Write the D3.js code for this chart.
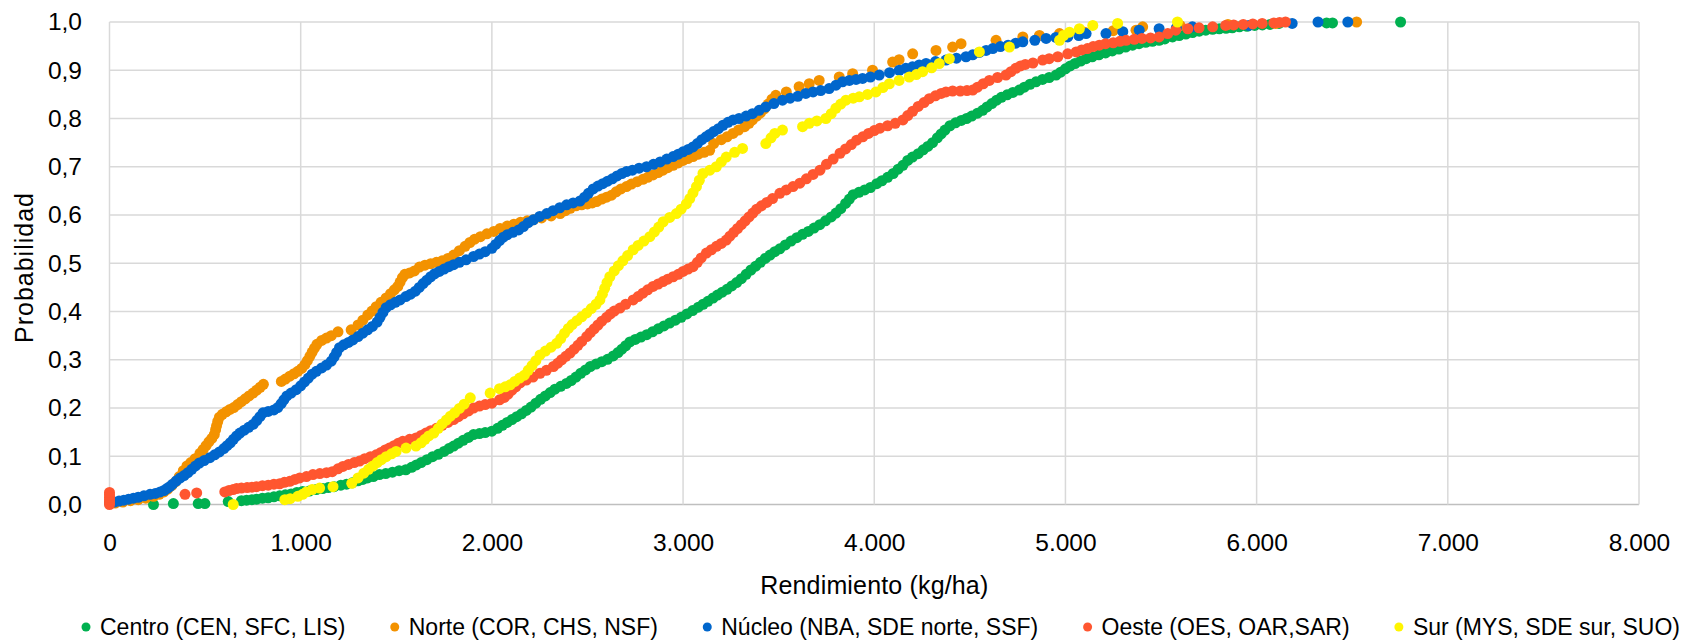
<!DOCTYPE html>
<html><head><meta charset="utf-8">
<script src="https://cdn.jsdelivr.net/npm/d3@7"></script>
<style>
body{margin:0;background:#fff}
svg{display:block}
text{font-family:"Liberation Sans",Arial,sans-serif;fill:#000}
</style>
</head><body><svg id="c" width="1686" height="642"></svg>
<script>
// ---- data (yield kg/ha, cumulative probability) ----
const seriesNames = ["Centro (CEN, SFC, LIS)","Norte (COR, CHS, NSF)","Núcleo (NBA, SDE norte, SSF)","Oeste (OES, OAR,SAR)","Sur (MYS, SDE sur, SUO)"];
const seriesColors = ["#00B050","#F39200","#0066CC","#FF5630","#FFF500"];

const centro = [[230,0.0],[334,0.002],[464,0.002],[499,0.002],[621,0.006],[690,0.008],[717,0.009],[745,0.01],[770,0.011],[800,0.013],[830,0.014],[860,0.016],[890,0.018],[920,0.02],[950,0.022],[980,0.025],[1010,0.027],[1045,0.028],[1082,0.031],[1115,0.033],[1145,0.035],[1175,0.037],[1210,0.04],[1240,0.042],[1270,0.045],[1300,0.049],[1325,0.052],[1350,0.055],[1380,0.058],[1412,0.062],[1445,0.064],[1480,0.067],[1515,0.07],[1550,0.072],[1580,0.077],[1605,0.082],[1630,0.087],[1660,0.093],[1690,0.099],[1720,0.104],[1750,0.11],[1775,0.116],[1800,0.121],[1825,0.127],[1850,0.133],[1878,0.139],[1904,0.145],[1935,0.147],[1965,0.149],[2000,0.152],[2030,0.158],[2055,0.164],[2080,0.17],[2105,0.176],[2130,0.182],[2155,0.188],[2180,0.195],[2205,0.202],[2230,0.21],[2255,0.218],[2280,0.225],[2305,0.232],[2330,0.239],[2360,0.245],[2390,0.251],[2415,0.257],[2440,0.264],[2465,0.272],[2490,0.279],[2515,0.286],[2545,0.291],[2575,0.296],[2605,0.301],[2635,0.308],[2660,0.315],[2680,0.322],[2700,0.329],[2722,0.337],[2750,0.342],[2780,0.347],[2810,0.352],[2840,0.358],[2870,0.364],[2900,0.37],[2930,0.376],[2960,0.382],[2990,0.388],[3020,0.395],[3050,0.402],[3080,0.409],[3105,0.415],[3130,0.421],[3157,0.428],[3180,0.434],[3205,0.44],[3230,0.446],[3255,0.453],[3280,0.46],[3305,0.468],[3330,0.477],[3355,0.486],[3380,0.494],[3405,0.502],[3430,0.51],[3455,0.517],[3480,0.524],[3506,0.53],[3535,0.538],[3565,0.546],[3595,0.553],[3625,0.56],[3655,0.566],[3685,0.573],[3715,0.58],[3745,0.588],[3775,0.596],[3800,0.604],[3825,0.613],[3850,0.624],[3870,0.633],[3890,0.642],[3920,0.647],[3950,0.652],[3980,0.657],[4013,0.665],[4040,0.671],[4070,0.678],[4099,0.686],[4125,0.695],[4150,0.703],[4175,0.713],[4200,0.72],[4230,0.727],[4256,0.735],[4280,0.742],[4305,0.75],[4330,0.76],[4350,0.768],[4370,0.776],[4396,0.785],[4425,0.791],[4455,0.796],[4483,0.8],[4510,0.805],[4540,0.811],[4567,0.817],[4590,0.824],[4615,0.831],[4640,0.838],[4665,0.844],[4695,0.849],[4725,0.854],[4759,0.859],[4785,0.865],[4815,0.871],[4846,0.876],[4880,0.881],[4915,0.885],[4951,0.89],[4975,0.896],[5000,0.903],[5025,0.909],[5050,0.914],[5080,0.919],[5108,0.924],[5140,0.928],[5175,0.932],[5210,0.936],[5245,0.94],[5280,0.944],[5315,0.948],[5351,0.952],[5385,0.955],[5420,0.958],[5455,0.96],[5490,0.962],[5520,0.965],[5560,0.969],[5595,0.972],[5630,0.975],[5665,0.978],[5700,0.981],[5734,0.983],[5770,0.985],[5805,0.986],[5840,0.987],[5873,0.988],[5910,0.99],[5950,0.991],[5990,0.993],[6030,0.994],[6070,0.995],[6117,0.997],[6366,0.998],[6397,0.998],[6753,1.0]];

const norte = [[30,0.003],[70,0.005],[110,0.008],[150,0.01],[190,0.013],[230,0.017],[260,0.021],[285,0.026],[305,0.032],[325,0.039],[345,0.047],[365,0.058],[386,0.07],[405,0.08],[425,0.087],[448,0.095],[473,0.106],[490,0.114],[505,0.122],[520,0.13],[535,0.137],[548,0.145],[555,0.155],[560,0.163],[566,0.172],[575,0.181],[590,0.187],[610,0.192],[630,0.197],[650,0.201],[670,0.207],[690,0.213],[710,0.219],[730,0.225],[751,0.231],[770,0.237],[788,0.243],[805,0.249],[899,0.255],[920,0.26],[943,0.266],[965,0.271],[985,0.276],[1005,0.282],[1022,0.29],[1035,0.298],[1048,0.307],[1060,0.316],[1072,0.324],[1085,0.332],[1110,0.34],[1135,0.345],[1160,0.35],[1195,0.358],[1264,0.362],[1300,0.372],[1325,0.382],[1351,0.393],[1373,0.401],[1395,0.41],[1420,0.419],[1447,0.428],[1470,0.437],[1490,0.445],[1508,0.452],[1520,0.461],[1532,0.47],[1545,0.477],[1570,0.48],[1595,0.484],[1621,0.492],[1650,0.496],[1680,0.499],[1710,0.502],[1740,0.505],[1770,0.51],[1800,0.517],[1830,0.526],[1860,0.535],[1885,0.543],[1910,0.55],[1940,0.555],[1974,0.561],[2010,0.566],[2043,0.572],[2080,0.577],[2115,0.581],[2150,0.585],[2185,0.588],[2217,0.59],[2260,0.594],[2310,0.598],[2357,0.603],[2385,0.609],[2410,0.614],[2440,0.619],[2470,0.621],[2500,0.623],[2525,0.625],[2548,0.628],[2575,0.633],[2600,0.637],[2626,0.641],[2650,0.648],[2675,0.654],[2704,0.659],[2730,0.664],[2760,0.669],[2790,0.674],[2815,0.678],[2843,0.683],[2870,0.688],[2895,0.693],[2920,0.698],[2948,0.703],[2975,0.708],[3000,0.713],[3025,0.717],[3052,0.721],[3080,0.726],[3110,0.73],[3139,0.734],[3160,0.748],[3200,0.756],[3230,0.762],[3261,0.769],[3290,0.776],[3322,0.783],[3345,0.79],[3363,0.797],[3385,0.805],[3405,0.812],[3425,0.82],[3445,0.83],[3465,0.84],[3485,0.848],[3540,0.855],[3607,0.866],[3660,0.872],[3712,0.879],[3817,0.886],[3887,0.893],[3991,0.9],[4096,0.917],[4130,0.922],[4201,0.934],[4323,0.941],[4410,0.948],[4454,0.955],[4637,0.962],[4777,0.969],[4864,0.972],[4969,0.976],[5100,0.979],[5250,0.982],[5369,0.983],[5404,0.99],[5600,0.993],[5850,0.995],[6100,0.997],[6523,1.0]];

const nucleo = [[0,0.003],[25,0.005],[50,0.007],[75,0.009],[100,0.011],[125,0.013],[150,0.015],[180,0.018],[212,0.021],[240,0.023],[265,0.026],[285,0.029],[300,0.033],[315,0.037],[330,0.042],[350,0.049],[370,0.055],[390,0.06],[410,0.066],[430,0.073],[450,0.08],[470,0.086],[495,0.091],[525,0.097],[550,0.103],[575,0.109],[598,0.116],[615,0.122],[632,0.128],[648,0.135],[665,0.142],[682,0.148],[705,0.154],[728,0.16],[751,0.166],[770,0.174],[787,0.182],[803,0.19],[830,0.193],[860,0.196],[880,0.201],[898,0.209],[912,0.217],[928,0.225],[950,0.231],[977,0.238],[1000,0.246],[1020,0.254],[1040,0.262],[1060,0.27],[1082,0.276],[1110,0.283],[1135,0.289],[1160,0.297],[1175,0.306],[1188,0.315],[1203,0.325],[1225,0.331],[1250,0.336],[1273,0.341],[1300,0.348],[1325,0.355],[1350,0.362],[1375,0.369],[1400,0.378],[1415,0.388],[1430,0.398],[1447,0.408],[1470,0.414],[1495,0.419],[1520,0.424],[1550,0.431],[1575,0.436],[1600,0.442],[1620,0.45],[1640,0.458],[1660,0.465],[1680,0.472],[1700,0.478],[1725,0.483],[1750,0.488],[1775,0.493],[1800,0.497],[1830,0.502],[1865,0.507],[1904,0.514],[1935,0.519],[1965,0.524],[2000,0.531],[2020,0.539],[2040,0.547],[2060,0.554],[2080,0.559],[2110,0.564],[2140,0.569],[2165,0.576],[2190,0.584],[2217,0.59],[2250,0.597],[2287,0.603],[2320,0.609],[2355,0.615],[2391,0.621],[2425,0.625],[2461,0.629],[2485,0.637],[2505,0.645],[2530,0.654],[2555,0.66],[2580,0.665],[2605,0.67],[2630,0.675],[2655,0.681],[2680,0.686],[2704,0.69],[2735,0.693],[2770,0.697],[2809,0.7],[2845,0.705],[2880,0.71],[2915,0.716],[2948,0.721],[2975,0.726],[3000,0.731],[3027,0.736],[3052,0.741],[3075,0.748],[3098,0.756],[3120,0.762],[3139,0.767],[3160,0.773],[3185,0.779],[3209,0.786],[3235,0.792],[3262,0.797],[3293,0.8],[3330,0.805],[3363,0.81],[3398,0.817],[3433,0.824],[3475,0.831],[3520,0.838],[3560,0.842],[3600,0.846],[3642,0.852],[3680,0.855],[3720,0.858],[3764,0.862],[3800,0.869],[3834,0.876],[3870,0.879],[3905,0.881],[3939,0.883],[3980,0.886],[4026,0.89],[4080,0.895],[4131,0.9],[4165,0.904],[4200,0.907],[4235,0.911],[4271,0.914],[4320,0.918],[4375,0.921],[4430,0.925],[4480,0.928],[4515,0.932],[4550,0.937],[4585,0.941],[4620,0.945],[4660,0.949],[4700,0.952],[4740,0.956],[4777,0.959],[4840,0.962],[4899,0.966],[4950,0.968],[5012,0.969],[5070,0.972],[5108,0.976],[5212,0.976],[5300,0.98],[5386,0.983],[5490,0.986],[5580,0.988],[5664,0.99],[5960,0.993],[6186,0.997],[6321,1.0],[6477,1.0]];

const oeste = [[0,0.0],[0,0.005],[0,0.01],[0,0.015],[0,0.02],[0,0.025],[395,0.021],[456,0.024],[603,0.026],[625,0.029],[647,0.031],[665,0.033],[690,0.034],[720,0.035],[745,0.036],[769,0.037],[800,0.039],[830,0.04],[860,0.042],[890,0.043],[915,0.046],[943,0.048],[970,0.052],[995,0.055],[1030,0.058],[1064,0.062],[1100,0.064],[1135,0.066],[1165,0.068],[1195,0.074],[1221,0.079],[1250,0.083],[1280,0.087],[1308,0.09],[1335,0.095],[1365,0.099],[1395,0.103],[1420,0.108],[1442,0.113],[1464,0.117],[1488,0.122],[1511,0.127],[1534,0.131],[1570,0.135],[1603,0.138],[1630,0.143],[1655,0.148],[1680,0.153],[1710,0.158],[1740,0.164],[1770,0.17],[1800,0.176],[1825,0.182],[1850,0.188],[1878,0.194],[1904,0.2],[1935,0.204],[1965,0.207],[2000,0.21],[2040,0.217],[2065,0.222],[2085,0.229],[2105,0.237],[2125,0.244],[2148,0.252],[2180,0.258],[2215,0.264],[2252,0.272],[2285,0.278],[2322,0.286],[2345,0.293],[2365,0.3],[2387,0.307],[2409,0.314],[2430,0.322],[2450,0.33],[2470,0.338],[2496,0.348],[2515,0.356],[2535,0.364],[2555,0.372],[2575,0.38],[2600,0.388],[2620,0.395],[2640,0.401],[2670,0.407],[2700,0.415],[2739,0.424],[2765,0.431],[2790,0.438],[2815,0.445],[2843,0.452],[2870,0.457],[2895,0.462],[2920,0.467],[2948,0.472],[2975,0.477],[3000,0.483],[3026,0.488],[3052,0.493],[3075,0.502],[3095,0.511],[3122,0.521],[3148,0.528],[3175,0.535],[3200,0.541],[3226,0.548],[3245,0.556],[3265,0.564],[3285,0.572],[3305,0.58],[3325,0.588],[3345,0.596],[3365,0.604],[3385,0.612],[3410,0.619],[3438,0.626],[3468,0.634],[3506,0.645],[3540,0.652],[3575,0.659],[3611,0.666],[3645,0.675],[3680,0.684],[3716,0.693],[3750,0.705],[3785,0.716],[3821,0.728],[3850,0.737],[3880,0.746],[3908,0.755],[3940,0.762],[3970,0.769],[4000,0.775],[4030,0.78],[4070,0.785],[4110,0.79],[4150,0.797],[4175,0.806],[4201,0.815],[4230,0.825],[4260,0.833],[4288,0.841],[4320,0.847],[4350,0.852],[4375,0.855],[4410,0.857],[4450,0.857],[4485,0.858],[4515,0.859],[4540,0.865],[4570,0.872],[4602,0.879],[4645,0.885],[4689,0.89],[4715,0.897],[4740,0.904],[4765,0.909],[4790,0.912],[4830,0.915],[4881,0.921],[4915,0.924],[4960,0.928],[5012,0.934],[5056,0.938],[5085,0.942],[5115,0.945],[5145,0.949],[5177,0.952],[5210,0.955],[5250,0.957],[5285,0.96],[5317,0.962],[5360,0.964],[5400,0.966],[5445,0.967],[5490,0.969],[5535,0.976],[5577,0.983],[5640,0.986],[5699,0.988],[5770,0.99],[5838,0.993],[5880,0.994],[5930,0.995],[5980,0.996],[6029,0.997],[6090,0.998],[6120,0.999],[6151,1.0]];

const sur = [[647,0.0],[917,0.01],[945,0.012],[985,0.017],[1010,0.021],[1030,0.026],[1060,0.031],[1099,0.034],[1169,0.037],[1267,0.044],[1300,0.055],[1330,0.065],[1355,0.073],[1378,0.08],[1400,0.087],[1422,0.093],[1447,0.099],[1475,0.105],[1499,0.11],[1551,0.117],[1603,0.121],[1630,0.128],[1650,0.135],[1670,0.142],[1696,0.148],[1720,0.158],[1740,0.167],[1762,0.175],[1783,0.183],[1805,0.19],[1830,0.199],[1855,0.208],[1887,0.221],[1991,0.231],[2040,0.24],[2070,0.244],[2096,0.248],[2120,0.255],[2145,0.262],[2170,0.268],[2190,0.278],[2210,0.288],[2230,0.298],[2252,0.31],[2280,0.318],[2310,0.326],[2339,0.334],[2360,0.344],[2380,0.355],[2400,0.365],[2420,0.373],[2445,0.381],[2470,0.389],[2496,0.397],[2520,0.406],[2545,0.415],[2565,0.424],[2578,0.436],[2590,0.448],[2602,0.46],[2617,0.472],[2640,0.484],[2662,0.495],[2685,0.505],[2710,0.516],[2739,0.528],[2765,0.537],[2795,0.546],[2826,0.555],[2850,0.565],[2873,0.575],[2896,0.586],[2930,0.595],[2965,0.603],[2990,0.612],[3017,0.623],[3035,0.634],[3052,0.646],[3070,0.659],[3085,0.672],[3104,0.686],[3140,0.693],[3174,0.7],[3200,0.71],[3226,0.72],[3270,0.73],[3311,0.738],[3433,0.748],[3460,0.76],[3480,0.769],[3520,0.776],[3625,0.783],[3660,0.79],[3700,0.795],[3747,0.8],[3775,0.81],[3799,0.821],[3825,0.83],[3852,0.838],[3890,0.842],[3922,0.845],[3965,0.85],[4009,0.855],[4045,0.864],[4079,0.872],[4130,0.879],[4183,0.886],[4220,0.891],[4253,0.897],[4300,0.905],[4340,0.914],[4393,0.924],[4550,0.938],[4707,0.948],[4969,0.962],[4990,0.972],[5021,0.979],[5073,0.986],[5143,0.993],[5273,0.997],[5586,1.0]];

const xTicks = [0,1000,2000,3000,4000,5000,6000,7000,8000];
const xTickLabels = ["0","1.000","2.000","3.000","4.000","5.000","6.000","7.000","8.000"];
const yTicks = [0,0.1,0.2,0.3,0.4,0.5,0.6,0.7,0.8,0.9,1.0];
const yTickLabels = ["0,0","0,1","0,2","0,3","0,4","0,5","0,6","0,7","0,8","0,9","1,0"];
const xTitle = "Rendimiento (kg/ha)";
const yTitle = "Probabilidad";

// ---- drawing ----
const allSeries = [centro, norte, nucleo, oeste, sur];
const svg = d3.select("#c");
const L = 109.5, R = 1639, T = 22, B = 504.5;
const x = d3.scaleLinear().domain([0,8000]).range([L,R]);
const y = d3.scaleLinear().domain([0,1]).range([B,T]);

const grid = svg.append("g");
grid.selectAll("line.h").data(yTicks).join("line")
  .attr("x1",L).attr("x2",R).attr("y1",d=>y(d)).attr("y2",d=>y(d))
  .attr("stroke",(d,i)=>i===0?"#BFBFBF":"#D9D9D9").attr("stroke-width",1.5);
grid.selectAll("line.v").data(xTicks).join("line")
  .attr("x1",d=>x(d)).attr("x2",d=>x(d)).attr("y1",T).attr("y2",B)
  .attr("stroke","#D9D9D9").attr("stroke-width",1.5);

const xAxis = svg.append("g").attr("transform",`translate(0,${B})`)
  .call(d3.axisBottom(x).tickValues(xTicks).tickFormat((d,i)=>xTickLabels[i]).tickSize(0).tickPadding(29));
const yAxis = svg.append("g").attr("transform",`translate(${L},0)`)
  .call(d3.axisLeft(y).tickValues(yTicks).tickFormat((d,i)=>yTickLabels[i]).tickSize(0).tickPadding(27.5));
[xAxis,yAxis].forEach(a=>{
  a.select(".domain").remove();
  a.selectAll("text").attr("font-size","24.5px").attr("font-family","Liberation Sans, Arial, sans-serif").attr("fill","#000");
});

svg.append("text").attr("x",(L+R)/2).attr("y",594).attr("text-anchor","middle")
  .attr("font-size","25px").attr("textLength",228).attr("lengthAdjust","spacing").text(xTitle);
svg.append("text").attr("transform","translate(33,268) rotate(-90)").attr("text-anchor","middle")
  .attr("font-size","25px").attr("textLength",150).attr("lengthAdjust","spacing").text(yTitle);

allSeries.forEach((s,i)=>{
  svg.append("g").selectAll("circle").data(s).join("circle")
    .attr("cx",d=>x(d[0])).attr("cy",d=>y(d[1])).attr("r",5.5)
    .attr("fill",seriesColors[i]);
});

// legend
const lg = svg.append("g");
const items = seriesNames.map((n,i)=>{
  const g = lg.append("g");
  g.append("circle").attr("r",4.5).attr("cx",0).attr("cy",627).attr("fill",seriesColors[i]);
  const t = g.append("text").attr("x",14).attr("y",635).attr("font-size","23px").text(n);
  return {g, w: t.node().getComputedTextLength()};
});
const startX = 86, endX = 1680;
const totalText = d3.sum(items, d=>14 + d.w);
const gap = (endX - startX - totalText) / (items.length - 1);
let cx = startX;
items.forEach(it=>{ it.g.attr("transform",`translate(${cx},0)`); cx += 14 + it.w + gap; });
</script>
</body></html>
